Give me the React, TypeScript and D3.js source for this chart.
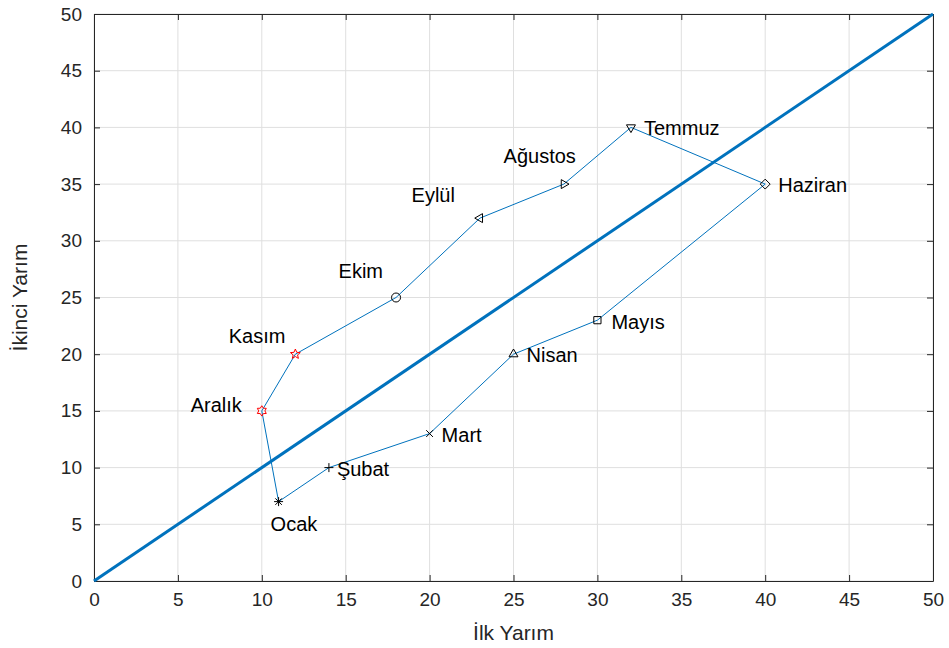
import React, { useEffect, useRef } from 'react';
import * as d3 from 'd3';

const months = ['Ocak', 'Şubat', 'Mart', 'Nisan', 'Mayıs', 'Haziran', 'Temmuz', 'Ağustos', 'Eylül', 'Ekim', 'Kasım', 'Aralık'];
const firstHalf = [11, 14, 20, 25, 30, 40, 32, 28, 23, 18, 12, 10];
const secondHalf = [7, 10, 13, 20, 23, 35, 40, 35, 32, 25, 20, 15];
const markers = ['asterisk', 'plus', 'cross', 'triUp', 'square', 'diamond', 'triDown', 'triRight', 'triLeft', 'circle', 'pentagram', 'hexagram'];
const ticks = [0, 5, 10, 15, 20, 25, 30, 35, 40, 45, 50];

// label offsets in px from the point (layout only)
const labelOffsets: [number, number, string][] = [
  [-8, 22, 'start'], [8, 1, 'start'], [12, 1, 'start'], [13, 1, 'start'], [14, 2, 'start'], [13, 1, 'start'],
  [13, 1, 'start'], [12, -28, 'end'], [-25, -23, 'end'], [-13, -27, 'end'], [-10, -18, 'end'], [-20, -6, 'end'],
];

const W = 949;
const H = 648;

function markerPath(kind: string, s: number): string {
  const p = d3.path();
  if (kind === 'circle') {
    p.arc(0, 0, s, 0, Math.PI * 2);
  } else if (kind === 'square') {
    p.rect(-s * 0.8, -s * 0.8, s * 1.6, s * 1.6);
  } else if (kind === 'diamond') {
    p.moveTo(0, -s * 1.1); p.lineTo(s * 1.1, 0); p.lineTo(0, s * 1.1); p.lineTo(-s * 1.1, 0); p.closePath();
  } else if (kind.startsWith('tri')) {
    const r = s * 1.15;
    const rot = { triUp: -90, triDown: 90, triRight: 0, triLeft: 180 }[kind as 'triUp']!;
    for (let i = 0; i < 3; i++) {
      const a = ((rot + i * 120) * Math.PI) / 180;
      if (i === 0) p.moveTo(r * Math.cos(a), r * Math.sin(a));
      else p.lineTo(r * Math.cos(a), r * Math.sin(a));
    }
    p.closePath();
  } else if (kind === 'plus') {
    p.moveTo(-s, 0); p.lineTo(s, 0); p.moveTo(0, -s); p.lineTo(0, s);
  } else if (kind === 'cross') {
    const k = s * 0.75;
    p.moveTo(-k, -k); p.lineTo(k, k); p.moveTo(-k, k); p.lineTo(k, -k);
  } else if (kind === 'asterisk') {
    const k = s * 0.72;
    p.moveTo(-s, 0); p.lineTo(s, 0); p.moveTo(0, -s); p.lineTo(0, s);
    p.moveTo(-k, -k); p.lineTo(k, k); p.moveTo(-k, k); p.lineTo(k, -k);
  } else if (kind === 'pentagram' || kind === 'hexagram') {
    const n = kind === 'pentagram' ? 5 : 6;
    const inner = kind === 'pentagram' ? 0.45 : 0.6;
    const R = s * 1.15;
    for (let i = 0; i < n * 2; i++) {
      const a = -Math.PI / 2 + (i * Math.PI) / n;
      const r = i % 2 === 0 ? R : R * inner;
      if (i === 0) p.moveTo(r * Math.cos(a), r * Math.sin(a));
      else p.lineTo(r * Math.cos(a), r * Math.sin(a));
    }
    p.closePath();
  }
  return p.toString();
}

export default function App() {
  const svgRef = useRef<SVGSVGElement>(null);

  useEffect(() => {
    document.body.style.margin = '0';
    document.body.style.overflow = 'hidden';
    if (!svgRef.current) return;
    const svg = d3.select(svgRef.current);
    svg.selectAll('*').remove();

    const left = 94, right = 933, top = 14, bottom = 581;
    const x = d3.scaleLinear().domain([0, 50]).range([left, right]);
    const y = d3.scaleLinear().domain([0, 50]).range([bottom, top]);
    const font = 'Liberation Sans, Arial, sans-serif';
    const axisColor = '#262626';

    // grid
    const grid = svg.append('g').attr('stroke', '#dfdfdf').attr('stroke-width', 1);
    ticks.forEach((t) => {
      grid.append('line').attr('x1', x(t)).attr('x2', x(t)).attr('y1', top).attr('y2', bottom);
      grid.append('line').attr('x1', left).attr('x2', right).attr('y1', y(t)).attr('y2', y(t));
    });

    // axes (box with inward ticks)
    const bottomAxis = d3.axisBottom(x).tickValues(ticks).tickSizeInner(-6).tickSizeOuter(0).tickPadding(12);
    const gx = svg.append('g').attr('transform', `translate(0,${bottom})`).call(bottomAxis);
    const leftAxis = d3.axisLeft(y).tickValues(ticks).tickSizeInner(-6).tickSizeOuter(0).tickPadding(12);
    const gy = svg.append('g').attr('transform', `translate(${left},0)`).call(leftAxis);
    const gt = svg.append('g').attr('transform', `translate(0,${top})`)
      .call(d3.axisTop(x).tickValues(ticks).tickSizeInner(-6).tickSizeOuter(0).tickFormat(() => ''));
    const gr = svg.append('g').attr('transform', `translate(${right},0)`)
      .call(d3.axisRight(y).tickValues(ticks).tickSizeInner(-6).tickSizeOuter(0).tickFormat(() => ''));
    [gx, gy, gt, gr].forEach((g) => {
      g.selectAll('path').attr('stroke', axisColor);
      g.selectAll('line').attr('stroke', axisColor);
      g.selectAll('text').attr('fill', axisColor).attr('font-family', font).attr('font-size', 19);
    });

    // diagonal reference line
    svg.append('line')
      .attr('x1', x(0)).attr('y1', y(0)).attr('x2', x(50)).attr('y2', y(50))
      .attr('stroke', '#0072BD').attr('stroke-width', 3);

    // data path
    const pts = months.map((m, i) => ({ m, a: firstHalf[i], b: secondHalf[i], k: markers[i], i }));
    const line = d3.line<(typeof pts)[0]>().x((d) => x(d.a)).y((d) => y(d.b));
    svg.append('path')
      .datum([...pts, pts[0]])
      .attr('d', line)
      .attr('fill', 'none')
      .attr('stroke', '#0072BD')
      .attr('stroke-width', 1);

    // markers
    svg.selectAll('.mk')
      .data(pts)
      .enter()
      .append('path')
      .attr('transform', (d) => `translate(${x(d.a)},${y(d.b)})`)
      .attr('d', (d) => markerPath(d.k, 4.5))
      .attr('fill', 'none')
      .attr('stroke', (d) => (d.k === 'pentagram' || d.k === 'hexagram' ? '#ff0000' : '#000'))
      .attr('stroke-width', 1);

    // labels
    svg.selectAll('.lbl')
      .data(pts)
      .enter()
      .append('text')
      .attr('x', (d) => x(d.a) + labelOffsets[d.i][0])
      .attr('y', (d) => y(d.b) + labelOffsets[d.i][1])
      .attr('dy', '0.35em')
      .attr('text-anchor', (d) => labelOffsets[d.i][2])
      .attr('font-family', font)
      .attr('font-size', 20)
      .attr('fill', '#000')
      .text((d) => d.m);

    // axis titles
    svg.append('text')
      .attr('x', (left + right) / 2).attr('y', 640)
      .attr('text-anchor', 'middle')
      .attr('font-family', font).attr('font-size', 21).attr('fill', axisColor)
      .text('İlk Yarım');
    svg.append('text')
      .attr('transform', `translate(27,${(top + bottom) / 2}) rotate(-90)`)
      .attr('text-anchor', 'middle')
      .attr('font-family', font).attr('font-size', 21).attr('fill', axisColor)
      .text('İkinci Yarım');
  }, []);

  return (
    <div style={{ width: W, height: H, background: '#fff' }}>
      <svg ref={svgRef} width={W} height={H} style={{ display: 'block', overflow: 'visible' }} />
    </div>
  );
}
